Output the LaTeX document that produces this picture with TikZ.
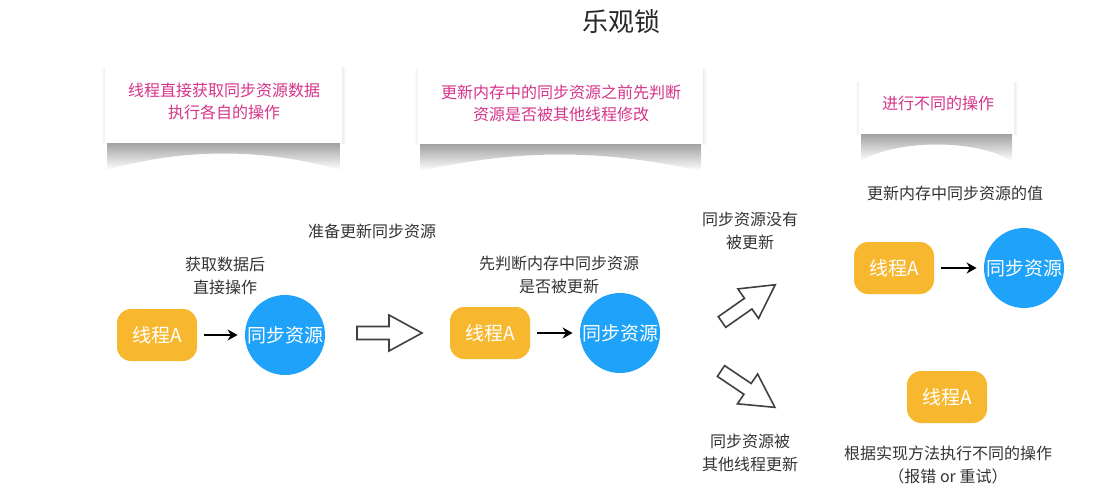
\documentclass[tikz,border=0pt]{standalone}
\usepackage{fontspec}
\setmainfont{Noto Sans CJK SC}
\usetikzlibrary{arrows.meta}

\definecolor{threadorange}{RGB}{247,184,48}
\definecolor{resblue}{RGB}{30,162,250}
\definecolor{notepink}{RGB}{214,52,138}

\tikzset{
  threadbox/.style={rounded corners=7pt, fill=threadorange, text=white,
    minimum width=40pt, minimum height=26pt, inner sep=0pt,
    font=\fontsize{9.5}{11}\selectfont},
  resnode/.style={circle, fill=resblue, text=white, minimum size=40pt,
    inner sep=0pt, font=\fontsize{9.5}{11}\selectfont},
  lbl/.style={text=black!80, align=center, font=\fontsize{8}{11.5}\selectfont},
  notetext/.style={text=notepink, align=center, font=\fontsize{8}{11}\selectfont},
  go/.style={-{Stealth[length=5pt,width=5.5pt]}, line width=1.2pt,
    shorten <=3.5pt, shorten >=3.5pt},
  hollow/.style={draw=black!75, fill=white, line width=0.8pt},
  bigarrow/.pic={
    \draw[hollow] (0,-6.5) -- (32,-6.5) -- (32,-18) -- (65,0)
      -- (32,18) -- (32,6.5) -- (0,6.5) -- cycle;
  }
}

\begin{document}
\begin{tikzpicture}[x=0.5pt, y=-0.5pt]

  \useasboundingbox (0,0) rectangle (1103,503);

  \node[text=black!85, font=\fontsize{13}{15}\selectfont] (title) at (621,22) {乐观锁};

  % note cards with curled shadow
  \foreach \xa/\ya/\xb/\yb in {105/57/342/143, 418/59/703/144, 859/72/1014/134} {
    \shade[top color=black!45, bottom color=white]
      (\xa+2,\yb-6) -- (\xb-2,\yb-6) -- (\xb-2,\yb+27)
      .. controls ({(\xa+\xb)/2+40},\yb+5) and ({(\xa+\xb)/2-40},\yb+5) .. (\xa+2,\yb+27) -- cycle;
    \shade[left color=white, right color=black!7] (\xa-4,\ya+10) rectangle (\xa,\yb);
    \shade[left color=black!7, right color=white] (\xb,\ya+10) rectangle (\xb+4,\yb);
    \fill[white] (\xa,\ya) rectangle (\xb,\yb);
  }

  \node[notetext] (note1) at (224,101) {线程直接获取同步资源数据\\执行各自的操作};
  \node[notetext] (note2) at (561,103) {更新内存中的同步资源之前先判断\\资源是否被其他线程修改};
  \node[notetext] (note3) at (938,103) {进行不同的操作};

  % step 1
  \node[threadbox] (t1) at (157,335) {线程A};
  \node[resnode]   (r1) at (285,335) {同步资源};
  \draw[go] (t1) -- (r1);
  \node[lbl] (l1) at (225,276) {获取数据后\\直接操作};

  \node[lbl] (l2) at (372,231) {准备更新同步资源};
  \pic at (357,333) {bigarrow};

  % step 2
  \node[threadbox] (t2) at (490,333) {线程A};
  \node[resnode]   (r2) at (620,333) {同步资源};
  \draw[go] (t2) -- (r2);
  \node[lbl] (l3) at (559,275) {先判断内存中同步资源\\是否被更新};

  \pic[rotate=35]  at (722,322) {bigarrow};
  \pic[rotate=-34] at (721,371) {bigarrow};
  \node[lbl] (l4) at (750,231) {同步资源没有\\被更新};
  \node[lbl] (l5) at (750,453) {同步资源被\\其他线程更新};

  % step 3
  \node[lbl] (l6) at (955,193) {更新内存中同步资源的值};
  \node[threadbox] (t3) at (894,268) {线程A};
  \node[resnode]   (r3) at (1024,268) {同步资源};
  \draw[go] (t3) -- (r3);

  \node[threadbox] (t4) at (947,397) {线程A};
  \node[lbl] (l7) at (948,465) {根据实现方法执行不同的操作\\（报错 or 重试）};

\end{tikzpicture}
\end{document}
